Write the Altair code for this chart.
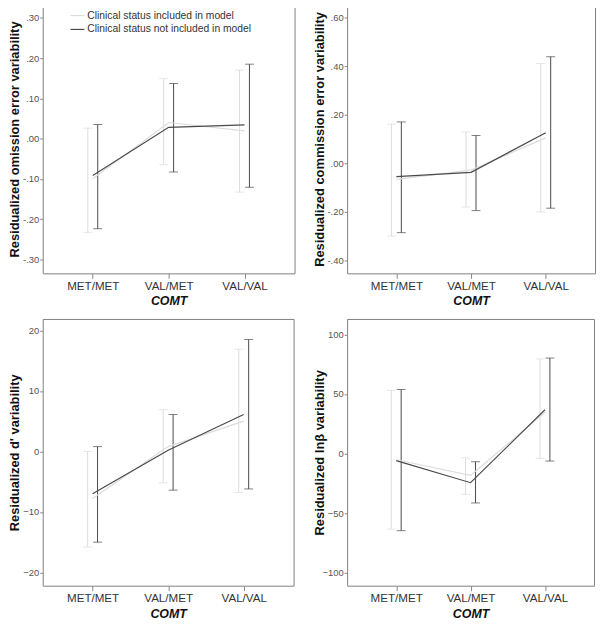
import altair as alt
import pandas as pd

categories = ["MET/MET", "VAL/MET", "VAL/VAL"]
series = ["Clinical status included in model", "Clinical status not included in model"]

omission_incl_mean = [-0.100, 0.040, 0.019]
omission_incl_low = [-0.233, -0.065, -0.133]
omission_incl_high = [0.026, 0.149, 0.170]
omission_excl_mean = [-0.092, 0.028, 0.034]
omission_excl_low = [-0.224, -0.083, -0.121]
omission_excl_high = [0.035, 0.137, 0.185]

commission_incl_mean = [-0.066, -0.028, 0.105]
commission_incl_low = [-0.300, -0.180, -0.200]
commission_incl_high = [0.162, 0.130, 0.412]
commission_excl_mean = [-0.055, -0.037, 0.126]
commission_excl_low = [-0.286, -0.195, -0.185]
commission_excl_high = [0.171, 0.115, 0.440]

dprime_incl_mean = [-7.8, 0.8, 5.0]
dprime_incl_low = [-15.8, -5.2, -6.8]
dprime_incl_high = [0.0, 6.9, 16.9]
dprime_excl_mean = [-7.0, 0.2, 6.1]
dprime_excl_low = [-15.0, -6.4, -6.2]
dprime_excl_high = [0.8, 6.1, 18.5]

lnbeta_incl_mean = [-5.2, -18.4, 34.6]
lnbeta_incl_low = [-63.5, -34.3, -4.1]
lnbeta_incl_high = [53.0, -3.6, 79.4]
lnbeta_excl_mean = [-6.0, -24.5, 36.8]
lnbeta_excl_low = [-64.8, -41.5, -6.3]
lnbeta_excl_high = [53.8, -6.9, 80.2]

LIGHT = "#dcdcdc"
DARK = "#4a4a4a"
FONT = "Liberation Sans"


def panel(title, incl, excl, domain, ticks, label_expr, w, h, legend=False):
    rows = []
    for s, (m, lo, hi) in zip(series, [incl, excl]):
        for c, mv, l, hv in zip(categories, m, lo, hi):
            rows.append({"cat": c, "series": s, "mean": mv, "lo": l, "hi": hv})
    df = pd.DataFrame(rows)
    base = alt.Chart(df)

    xenc = alt.X(
        "cat:N",
        scale=alt.Scale(type="point", padding=0.66, domain=categories),
        sort=categories,
        title="COMT",
        axis=alt.Axis(
            labelAngle=0, labelFontSize=11.7, labelColor="#333", labelPadding=2,
            tickSize=5, tickColor="#888", titleFontSize=12.5, titleFontWeight="bold",
            titleFontStyle="italic", titleColor="#111", titlePadding=3,
        ),
    )
    ysc = alt.Scale(domain=domain, nice=False, zero=False)
    yax_kwargs = dict(
        values=ticks, labelFontSize=9.5, labelColor="#555", tickSize=3, tickColor="#888",
        labelPadding=1, titleFontSize=13, titleFontWeight="bold", titleColor="#111",
        titlePadding=2, minExtent=19, maxExtent=19,
    )
    if label_expr:
        yax_kwargs["labelExpr"] = label_expr
    yax = alt.Axis(**yax_kwargs)

    def Y(field):
        return alt.Y(field, scale=ysc, axis=yax, title=title)

    if legend:
        leg = alt.Legend(
            title=None, orient="none", legendX=27, legendY=3, symbolType="stroke",
            symbolSize=196, symbolStrokeWidth=1.2, labelFontSize=10.4, labelColor="#333",
            labelOffset=2, rowPadding=-4, labelFont=FONT, labelLimit=0, padding=0,
        )
    else:
        leg = None

    line = base.mark_line(strokeWidth=1.2).encode(
        x=xenc,
        y=Y("mean:Q"),
        color=alt.Color("series:N", scale=alt.Scale(domain=series, range=[LIGHT, DARK]), legend=leg),
        order=alt.Order("series:N"),
    )

    layers = []
    for s, col, off in [(series[0], LIGHT, -5), (series[1], DARK, 5)]:
        sub = base.transform_filter(alt.datum.series == s)
        layers.append(
            sub.mark_rule(color=col, strokeWidth=1, xOffset=off).encode(
                x=xenc, y=Y("lo:Q"), y2=alt.Y2("hi:Q")
            )
        )
        for fld in ["lo", "hi"]:
            layers.append(
                sub.mark_tick(color=col, thickness=1, size=9, xOffset=off, orient="horizontal").encode(
                    x=xenc, y=Y(f"{fld}:Q")
                )
            )
    return alt.layer(*layers, line).properties(width=w, height=h)


fmt_dot = "(datum.value < 0 ? '-' : '') + replace(format(abs(datum.value), '.2f'), '0.', '.')"

p1 = panel("Residualized omission error variability",
           (omission_incl_mean, omission_incl_low, omission_incl_high),
           (omission_excl_mean, omission_excl_low, omission_excl_high),
           [-0.335, 0.333], [-0.3, -0.2, -0.1, 0.0, 0.1, 0.2, 0.3], fmt_dot, 254, 271, legend=True)
p2 = panel("Residualized commission error variability",
           (commission_incl_mean, commission_incl_low, commission_incl_high),
           (commission_excl_mean, commission_excl_low, commission_excl_high),
           [-0.454, 0.655], [-0.4, -0.2, 0.0, 0.2, 0.4, 0.6], fmt_dot, 250, 271)
p3 = panel("Residualized d' variability",
           (dprime_incl_mean, dprime_incl_low, dprime_incl_high),
           (dprime_excl_mean, dprime_excl_low, dprime_excl_high),
           [-22.2, 21.9], [-20, -10, 0, 10, 20], None, 253, 269)
p4 = panel("Residualized lnβ variability",
           (lnbeta_incl_mean, lnbeta_incl_low, lnbeta_incl_high),
           (lnbeta_excl_mean, lnbeta_excl_low, lnbeta_excl_high),
           [-111, 113], [-100, -50, 0, 50, 100], None, 249, 269)

row1 = alt.hconcat(p1, p2, spacing=17).resolve_scale(color="independent", x="independent", y="independent")
row2 = alt.hconcat(p3, p4, spacing=18).resolve_scale(color="independent", x="independent", y="independent")

chart = (
    alt.vconcat(row1, row2, spacing=10)
    .resolve_scale(color="independent", x="independent", y="independent")
    .properties(padding={"left": 0, "top": -7, "right": 0, "bottom": 0})
    .configure(font=FONT)
    .configure_view(stroke="#808080", strokeWidth=1)
    .configure_axis(grid=False, domain=False, labelFont=FONT, titleFont=FONT)
    .configure_legend(labelFont=FONT)
)

chart.save("out.html", embed_options={"renderer": "svg", "actions": False})
